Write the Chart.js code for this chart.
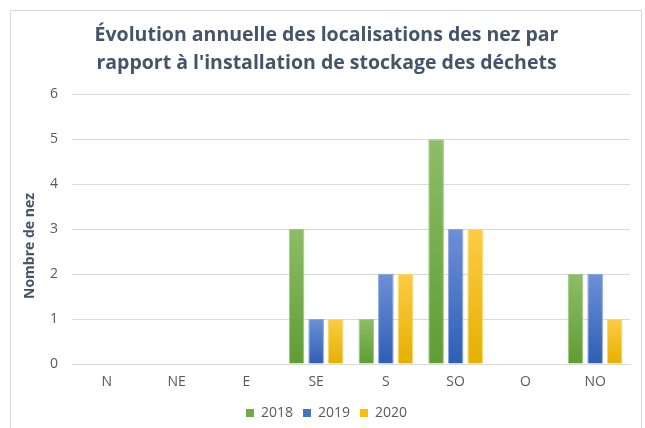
<!DOCTYPE html>
<html><head><meta charset="utf-8">
<script src="https://cdn.jsdelivr.net/npm/chart.js@4/dist/chart.umd.min.js"></script>
<style>
html,body{margin:0;padding:0;background:#fff;}
#frame{position:absolute;left:10px;top:10px;width:632px;height:430px;border:1px solid #d9d9d9;box-sizing:border-box;}
#wrap{position:absolute;left:0;top:0;width:645px;height:428px;}
</style></head>
<body>
<div id="frame"></div>
<div id="wrap"><canvas id="c" width="645" height="428"></canvas></div>
<script>
const categories = ["N","NE","E","SE","S","SO","O","NO"];
const seriesNames = ["2018","2019","2020"];
const values2018 = [0,0,0,3,1,5,0,2];
const values2019 = [0,0,0,1,2,3,0,2];
const values2020 = [0,0,0,1,2,3,0,1];
const yTicks = [0,1,2,3,4,5,6];
const titleLines = ["Évolution annuelle des localisations des nez par","rapport à l'installation de stockage des déchets"];
const yTitle = "Nombre de nez";

const FONT = '"Open Sans", "Noto Sans", sans-serif';
const palette = [
  {top:"#8dbd68", bottom:"#5f9d34", solid:"#70ad47", border:"#9cc87f"},
  {top:"#6d90d6", bottom:"#2f5eb6", solid:"#4472c4", border:"#87a3dc"},
  {top:"#ffcb45", bottom:"#e4b000", solid:"#ffc000", border:"#ffd466"}
];
function grad(i){
  return function(ctx){
    const chart = ctx.chart;
    const p = palette[i];
    if(!chart.chartArea || ctx.parsed === undefined || !chart.scales.y) return p.solid;
    const y = chart.scales.y;
    const top = y.getPixelForValue(ctx.parsed.y);
    const base = y.getPixelForValue(0);
    if(!isFinite(top) || Math.abs(base-top)<1) return p.solid;
    const g = chart.ctx.createLinearGradient(0, top, 0, base);
    g.addColorStop(0, p.top);
    g.addColorStop(1, p.bottom);
    return g;
  };
}
const dataArrays = [values2018, values2019, values2020];
const datasets = seriesNames.map((n,i)=>({
  label:n,
  data:dataArrays[i],
  backgroundColor:grad(i),
  borderColor:palette[i].border,
  borderWidth:1,
  categoryPercentage:0.84,
  barPercentage:0.8,
  yAxisID:'y'
}));

const yTitlePlugin = {
  id:'yTitlePlugin',
  afterDraw(chart){
    const ctx = chart.ctx;
    ctx.save();
    ctx.translate(30, 246);
    ctx.rotate(-Math.PI/2);
    ctx.fillStyle = '#44546a';
    ctx.font = 'bold 14px ' + FONT;
    ctx.textAlign = 'center';
    ctx.textBaseline = 'middle';
    ctx.fillText(yTitle, 0, 0);
    ctx.restore();
  }
};

new Chart(document.getElementById('c'), {
  type:'bar',
  data:{labels:categories, datasets:datasets},
  plugins:[yTitlePlugin],
  options:{
    responsive:false,
    animation:false,
    layout:{padding:{left:10,right:2,top:21,bottom:-2}},
    plugins:{
      legend:{
        position:'bottom',
        labels:{
          boxWidth:8, boxHeight:8, padding:10,
          color:'#595959',
          font:{family:FONT, size:14},
          generateLabels:(chart)=>chart.data.datasets.map((d,i)=>({
            text:d.label, fillStyle:palette[i].solid, strokeStyle:palette[i].solid,
            lineWidth:0, datasetIndex:i, fontColor:'#595959'
          }))
        }
      },
      title:{
        display:true,
        text:titleLines,
        color:'#44546a',
        font:{family:FONT, size:19.5, weight:'bold', lineHeight:1.44},
        padding:{top:0,bottom:17}
      },
      tooltip:{enabled:false}
    },
    scales:{
      x:{
        grid:{display:false, drawTicks:false},
        border:{display:true, color:'#d9d9d9'},
        ticks:{color:'#595959', padding:10, font:{family:FONT, size:14}},
        afterFit:(s)=>{s.height = 32;}
      },
      y:{
        min:0,max:6,
        afterBuildTicks:(s)=>{s.ticks = yTicks.map(v=>({value:v}));},
        grid:{color:'#d9d9d9', drawTicks:false},
        border:{display:false},
        ticks:{color:'#595959', padding:14, font:{family:FONT, size:14}},
        afterFit:(s)=>{s.width = 62;}
      },
      yR:{
        position:'right',
        display:true,
        grid:{display:false, drawTicks:false},
        border:{display:false},
        ticks:{display:false},
        afterFit:(s)=>{s.width = 13;}
      }
    }
  }
});
</script>
</body></html>
